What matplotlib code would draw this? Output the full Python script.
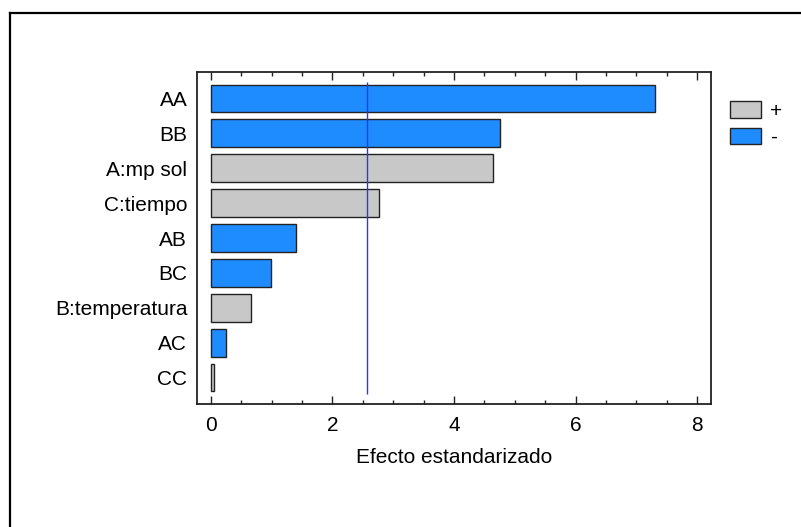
import matplotlib
matplotlib.use("Agg")
import matplotlib.pyplot as plt
from matplotlib.patches import Patch
from matplotlib.lines import Line2D
from matplotlib.ticker import MultipleLocator

plt.rcParams['font.family'] = ['Liberation Sans', 'DejaVu Sans']

# Standardized effects (Pareto chart), largest first
terms = ["AA", "BB", "A:mp sol", "C:tiempo", "AB", "BC", "B:temperatura", "AC", "CC"]
effects = [7.31, 4.76, 4.64, 2.76, 1.40, 0.99, 0.66, 0.24, 0.045]
signs = ["-", "-", "+", "+", "-", "-", "+", "-", "+"]
critical_value = 2.571
xticks = [0, 2, 4, 6, 8]
legend_labels = ["+", "-"]

color_pos = "#C8C8C8"
color_neg = "#1E8CFF"
fs = 15.0

W, H = 801, 527
fig = plt.figure(figsize=(W / 100, H / 100), dpi=100)
fig.patch.set_facecolor("white")

# axes box in pixels: left 197, right 711, top 72, bottom 404
ax = fig.add_axes([197 / W, 1 - 404 / H, (711 - 197) / W, (404 - 72) / H])

ypos = list(range(len(terms)))
colors = [color_pos if s == "+" else color_neg for s in signs]
ax.barh(ypos, effects, height=0.8, color=colors, edgecolor="#222222", linewidth=1.0, zorder=2)
ax.vlines(critical_value, -0.47, len(terms) - 1 + 0.47, color="#3030FF", linewidth=1.0, zorder=3)

ax.set_ylim(len(terms) - 1 + 0.76, -0.76)
ax.set_xlim(-0.23, 8.23)
ax.set_yticks(ypos)
ax.set_yticklabels(terms, fontsize=fs)
ax.set_xticks(xticks)
ax.set_xticklabels([str(t) for t in xticks], fontsize=fs)
ax.xaxis.set_minor_locator(MultipleLocator(0.5))
ax.tick_params(axis="y", length=0, pad=7)
ax.tick_params(axis="x", which="major", direction="in", top=True, bottom=True,
               length=6, width=1.0, pad=8.5, color="#222222")
ax.tick_params(axis="x", which="minor", direction="in", top=True, bottom=True,
               length=3, width=1.0, color="#222222")
for sp in ax.spines.values():
    sp.set_linewidth(1.3)
    sp.set_color("#222222")
ax.set_xlabel("Efecto estandarizado", fontsize=fs, labelpad=9.5)

handles = [Patch(facecolor=color_pos, edgecolor="#222222", linewidth=1.0),
           Patch(facecolor=color_neg, edgecolor="#222222", linewidth=1.0)]
fig.legend(handles, legend_labels, loc="upper left",
           bbox_to_anchor=(720 / W, 1 - 91 / H), frameon=False, fontsize=fs,
           handlelength=1.45, handleheight=0.82, handletextpad=0.45,
           labelspacing=0.33, borderpad=0.0)

# outer frame lines
fig.add_artist(Line2D([10 / W, 1.0], [1 - 13 / H, 1 - 13 / H], color="black", linewidth=1.6))
fig.add_artist(Line2D([10 / W, 10 / W], [1 - 13 / H, 0.0], color="black", linewidth=1.6))

fig.savefig("out.png", dpi=100, facecolor="white")
